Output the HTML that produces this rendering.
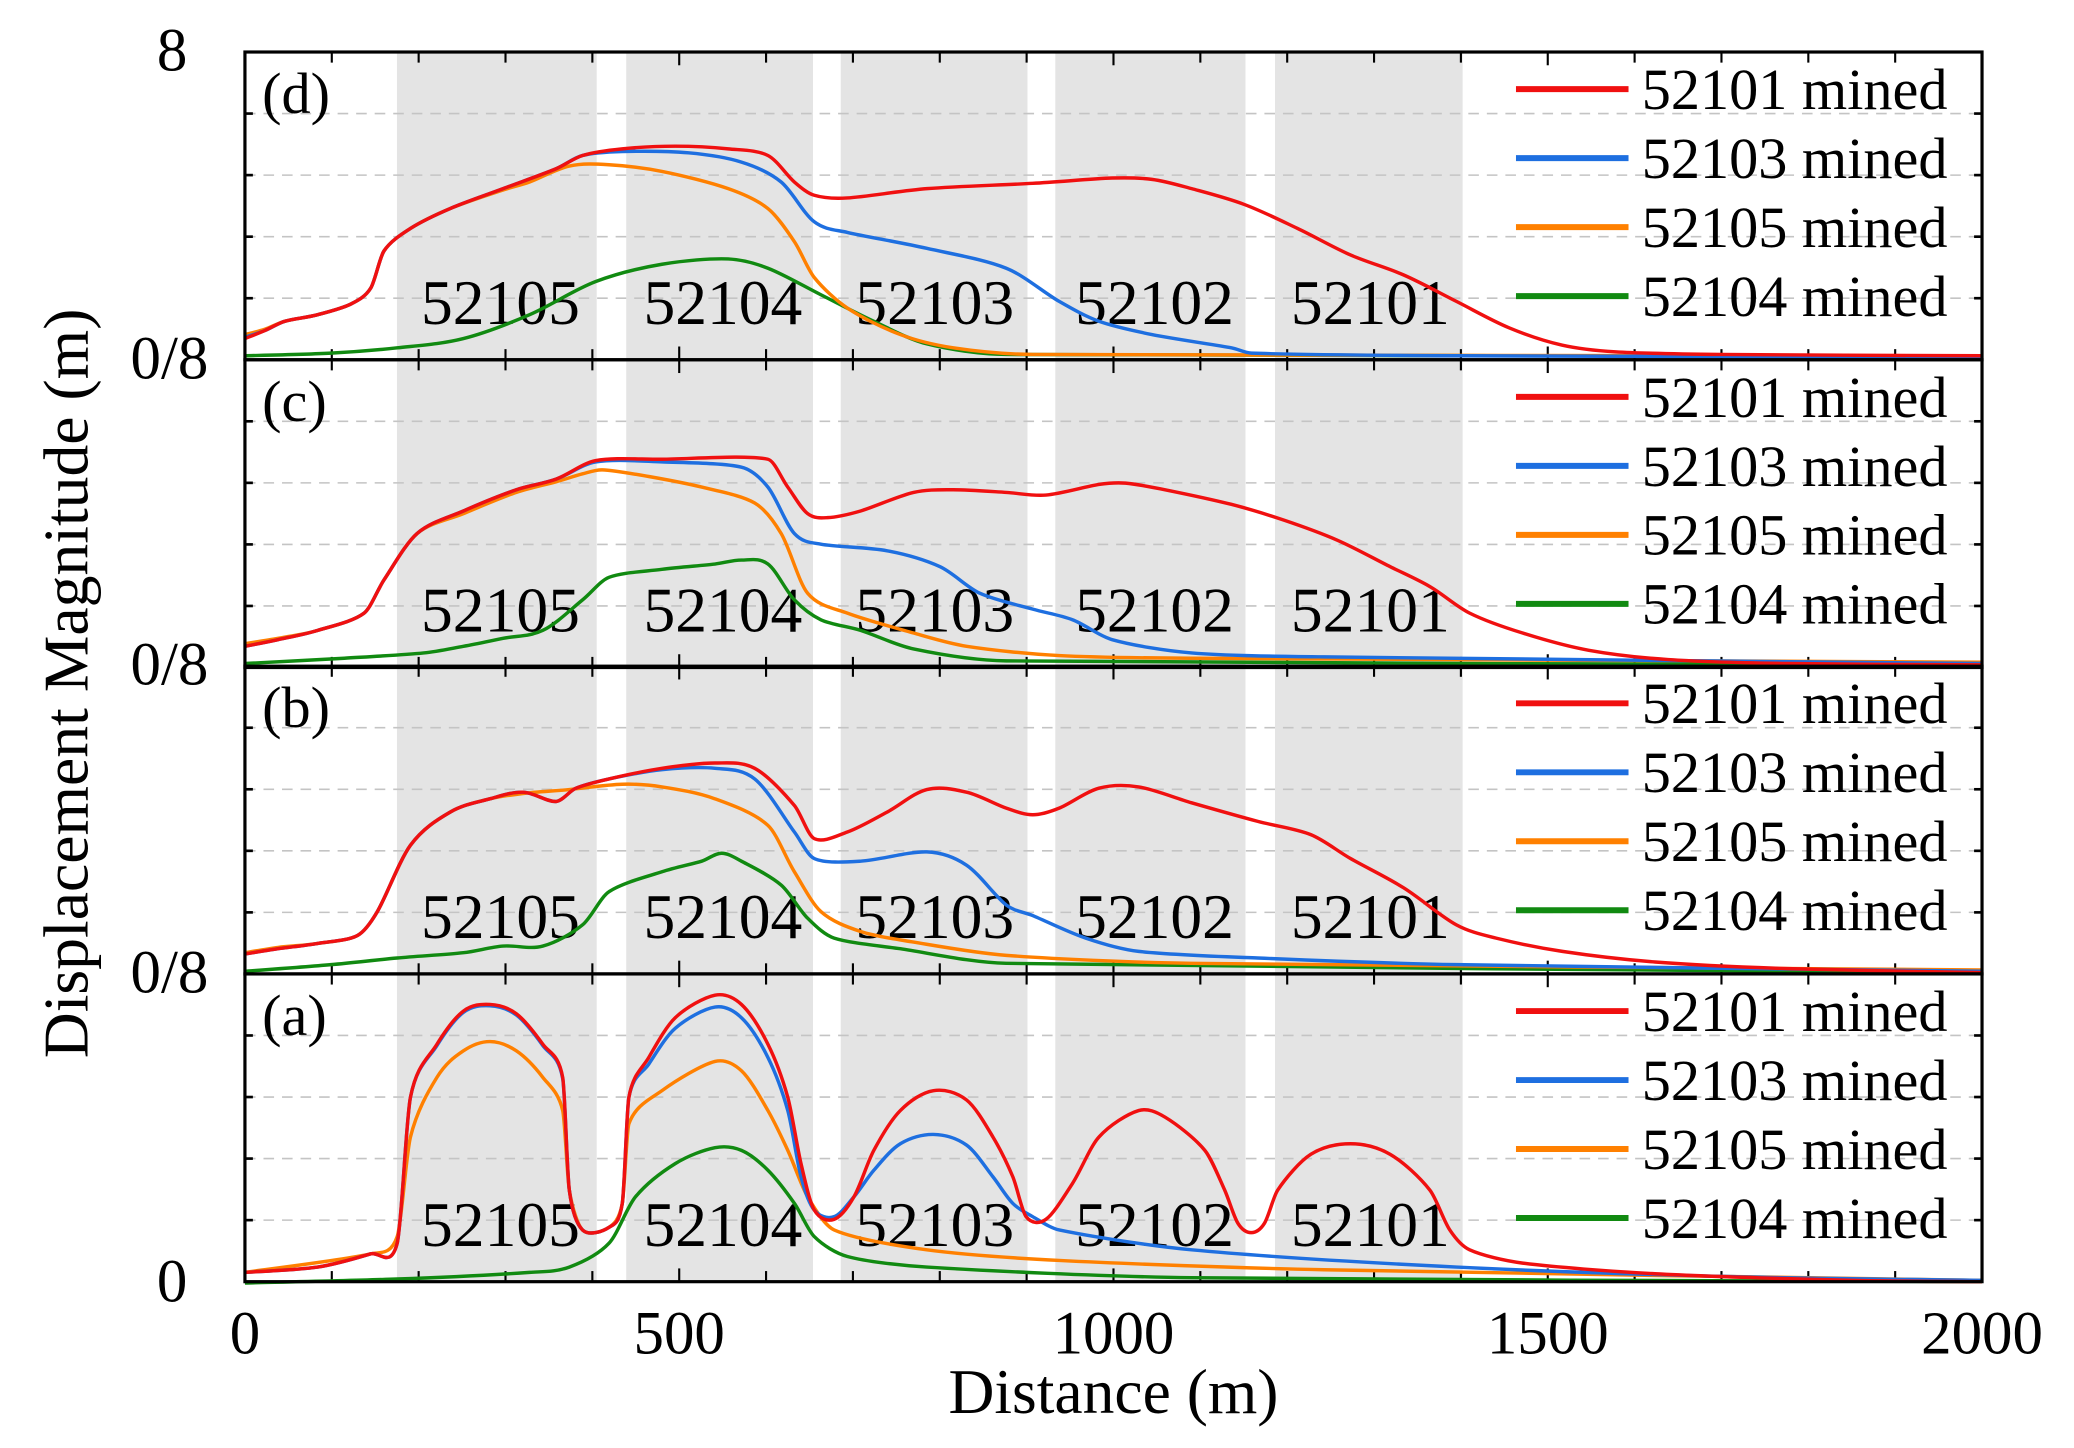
<!DOCTYPE html>
<html><head><meta charset="utf-8"><style>
html,body{margin:0;padding:0;background:#fff;}
svg{display:block;}
text{font-family:"Liberation Serif",serif;fill:#000;}
</style></head><body>
<svg id="s" width="2074" height="1448" viewBox="0 0 2074 1448" xmlns="http://www.w3.org/2000/svg">
<g id="g" transform="matrix(1.324,0,0,1.3265,0,-3.7)"></g>
</svg>
<script>
const g=document.getElementById('g');
let h='';
const L=185,R=1497,T=42,B=970,PH=232;
const tops=[42,274,505,737];
const reg=[[175,405],[439,654],[686,901],[933,1152],[1186,1402]];
const X=m=>L+m*(R-L)/2000;
for(const r of reg){h+=`<rect x="${X(r[0])}" y="${T}" width="${X(r[1])-X(r[0])}" height="${B-T}" fill="#e4e4e4"/>`;}
for(let p=0;p<4;p++){const t=tops[p];const bb=t+PH;
 for(let k=1;k<5;k++){const y=t+k*PH/5;h+=`<line x1="${L}" x2="${R}" y1="${y}" y2="${y}" stroke="#c4c4c4" stroke-width="1.2" stroke-dasharray="8,6"/>`;
  h+=`<line x1="${L}" x2="${L+6}" y1="${y}" y2="${y}" stroke="#000" stroke-width="2"/><line x1="${R-6}" x2="${R}" y1="${y}" y2="${y}" stroke="#000" stroke-width="2"/>`;}
 for(let m=100;m<2000;m+=100){const x=X(m);const len=m%500==0?10:8;
  h+=`<line x1="${x}" x2="${x}" y1="${t}" y2="${t+len}" stroke="#000" stroke-width="1.6"/><line x1="${x}" x2="${x}" y1="${bb}" y2="${bb-len}" stroke="#000" stroke-width="1.6"/>`;}
}
function path(pts){let d='M'+pts[0][0]+','+pts[0][1];
 for(let i=0;i<pts.length-1;i++){const p0=pts[Math.max(0,i-1)],p1=pts[i],p2=pts[i+1],p3=pts[Math.min(pts.length-1,i+2)];
  const dx=p2[0]-p1[0];
  let t1x=(p2[0]-p0[0]),t1y=(p2[1]-p0[1]),t2x=(p3[0]-p1[0]),t2y=(p3[1]-p1[1]);
  let s1=Math.min(1,dx*2/Math.max(t1x,1e-6)),s2=Math.min(1,dx*2/Math.max(t2x,1e-6));
  const c1=[p1[0]+t1x*s1/6,p1[1]+t1y*s1/6],c2=[p2[0]-t2x*s2/6,p2[1]-t2y*s2/6];
  d+=` C${c1[0].toFixed(1)},${c1[1].toFixed(1)} ${c2[0].toFixed(1)},${c2[1].toFixed(1)} ${p2[0]},${p2[1]}`;}
 return d;}
const C={r:'#f01010',b:'#1e6fe0',o:'#ff8000',g:'#118a11'};
const data={
d:{g:[[185,271],[250,269],[300,265],[350,258],[400,240],[450,215],[500,202],[550,198],[580,205],[620,225],[660,245],[700,262],[760,270],[1497,271]],
o:[[185,255],[200,251],[215,245],[240,240],[265,232],[280,220],[290,192],[310,175],[340,160],[380,146],[400,140],[430,128],[460,127],[500,132],[550,145],[580,160],[600,185],[615,212],[640,235],[680,255],[720,265],[780,270],[1497,271]],
b:[[185,257],[200,252],[215,245],[240,240],[265,232],[280,220],[290,192],[310,175],[340,160],[380,145],[420,130],[440,120],[470,117],[520,118],[560,125],[590,140],[615,170],[640,178],[700,190],[760,205],[800,230],[830,245],[870,255],[930,265],[945,269],[1100,271],[1497,272]],
r:[[185,258],[200,252],[215,245],[240,240],[265,232],[280,220],[290,192],[310,175],[340,160],[380,145],[420,130],[440,120],[470,115],[510,113],[550,115],[580,120],[600,140],[615,150],[640,152],[700,145],[780,141],[840,137],[870,138],[900,145],[940,157],[980,175],[1020,195],[1060,210],[1100,230],[1140,250],[1180,263],[1220,268],[1300,270],[1497,271]]},
c:{g:[[185,503],[260,499],[320,495],[350,490],[380,484],[410,478],[440,455],[460,438],[500,432],[540,428],[560,425],[580,428],[600,455],[620,470],[650,478],[690,492],[760,501],[1497,504]],
o:[[185,488],[210,484],[240,478],[275,465],[290,440],[315,405],[350,390],[390,374],[420,366],[440,360],[455,357],[490,362],[530,370],[570,382],[590,405],[610,450],[640,465],[690,480],[730,490],[800,497],[900,499],[1497,502]],
b:[[185,490],[210,485],[240,478],[275,465],[290,440],[315,405],[350,388],[390,372],[420,364],[450,351],[500,351],[560,355],[580,370],[600,405],[620,413],[670,418],[710,430],[740,450],[780,462],[810,470],[840,485],[900,495],[1000,498],[1497,503]],
r:[[185,490],[210,485],[240,478],[275,465],[290,440],[315,405],[350,388],[390,372],[420,364],[450,350],[500,349],[580,349],[595,370],[610,390],[625,393],[650,388],[690,374],[720,372],[760,374],[790,376],[830,368],[850,367],[880,372],[930,383],[970,395],[1010,410],[1050,430],[1080,445],[1110,465],[1150,480],[1200,493],[1260,500],[1350,503],[1497,504]]},
b:{g:[[185,735],[250,730],[300,725],[350,721],[380,716],[410,716],[440,700],[460,675],[500,660],[530,652],[545,646],[560,652],[590,670],[610,695],[630,710],[680,718],[760,729],[1497,736]],
o:[[185,721],[210,717],[240,714],[270,708],[285,690],[310,640],[340,615],[370,605],[395,601],[430,598],[470,594],[500,596],[540,605],[580,625],[600,660],[620,690],[650,705],[690,713],[760,723],[900,729],[1497,734]],
b:[[185,722],[210,718],[240,714],[270,708],[285,690],[310,640],[340,615],[370,605],[395,600],[420,607],[435,597],[460,590],[500,583],[540,582],[570,590],[600,630],[615,650],[650,652],[700,645],[730,655],[760,685],[780,693],[820,710],[860,720],[950,725],[1100,730],[1497,735]],
r:[[185,722],[210,718],[240,714],[270,708],[285,690],[310,640],[340,615],[370,605],[395,600],[420,607],[435,597],[460,590],[500,582],[540,578],[570,582],[600,610],[615,635],[640,630],[670,615],[700,598],[730,600],[760,612],[780,617],[800,612],[830,597],[860,596],[900,608],[950,622],[990,632],[1020,650],[1060,672],[1100,700],[1130,710],[1180,720],[1250,728],[1350,733],[1497,736]]},
a:{g:[[185,970],[300,967],[400,962],[430,958],[460,940],[480,905],[510,880],[540,868],[560,870],[580,885],[600,910],[615,935],[640,950],[700,958],[900,966],[1497,969]],
o:[[185,962],[280,948],[300,935],[310,860],[330,815],[350,795],[370,788],[390,795],[410,815],[425,840],[430,900],[440,930],[460,928],[470,910],[475,850],[500,825],[540,803],[560,810],[580,840],[595,870],[610,905],[630,930],[700,945],[800,953],[1000,960],[1497,968]],
b:[[185,962],[240,958],[280,948],[300,940],[310,830],[330,791],[350,766],[370,761],[390,768],[410,791],[425,816],[430,900],[440,930],[460,928],[470,910],[475,830],[490,805],[510,778],[540,762],[560,770],[580,800],[595,840],[605,890],[615,915],[630,920],[645,905],[660,885],[680,865],[705,858],[730,866],[750,890],[765,910],[780,920],[800,930],[900,945],[1100,958],[1300,965],[1497,968]],
r:[[185,962],[240,958],[280,948],[300,940],[310,830],[330,790],[350,765],[370,760],[390,767],[410,790],[425,815],[430,900],[440,930],[460,928],[470,910],[475,830],[490,800],[510,770],[540,753],[560,760],[580,790],[595,830],[605,880],[615,915],[630,922],[645,905],[660,870],[680,840],[705,825],[730,832],[750,860],[765,890],[775,920],[790,922],[810,895],[830,860],[860,840],[880,845],[910,870],[925,900],[935,925],[945,932],[955,925],[965,900],[990,873],[1020,865],[1050,873],[1080,900],[1095,930],[1110,945],[1150,955],[1250,963],[1400,968],[1497,969]]}};
const panels=['d','c','b','a'];
const names=['52105','52104','52103','52102','52101'];const cx=[378,546,706,872,1035];
for(let p=0;p<4;p++){const by=tops[p]+205;
 for(let i=0;i<5;i++)h+=`<text x="${cx[i]}" y="${by}" font-size="48" text-anchor="middle">${names[i]}</text>`;}
for(let p=0;p<4;p++){const D=data[panels[p]];
 for(const k of ['g','o','b','r'])h+=`<path d="${path(D[k])}" fill="none" stroke="${C[k]}" stroke-width="2.6" stroke-linejoin="round"/>`;
 const t=tops[p];
 h+=`<text x="198" y="${t+46}" font-size="44">(${panels[p]})</text>`;
 const lab=[['r','52101'],['b','52103'],['o','52105'],['g','52104']];
 lab.forEach((l,i)=>{const y=t+28+i*52;
  h+=`<line x1="1145" x2="1230" y1="${y}" y2="${y}" stroke="${C[l[0]]}" stroke-width="4.5"/>`;
  h+=`<text x="1240" y="${y+15}" font-size="44">${l[1]} mined</text>`;});
}
for(let p=0;p<4;p++)h+=`<rect x="${L}" y="${tops[p]}" width="${R-L}" height="${PH}" fill="none" stroke="#000" stroke-width="2.4"/>`;
h+=`<text x="130" y="56" font-size="46" text-anchor="middle">8</text>`;
for(let p=1;p<4;p++)h+=`<text x="128" y="${tops[p]+14}" font-size="46" text-anchor="middle">0/8</text>`;
h+=`<text x="130" y="984" font-size="46" text-anchor="middle">0</text>`;
[[0,'0'],[500,'500'],[1000,'1000'],[1500,'1500'],[2000,'2000']].forEach(a=>{h+=`<text x="${X(a[0])}" y="1023" font-size="46" text-anchor="middle">${a[1]}</text>`;});
h+=`<text x="841" y="1068" font-size="48" text-anchor="middle">Distance (m)</text>`;
h+=`<text transform="translate(66,518) rotate(-90)" font-size="48" text-anchor="middle">Displacement Magnitude (m)</text>`;
g.innerHTML=h;
</script>
</body></html>
